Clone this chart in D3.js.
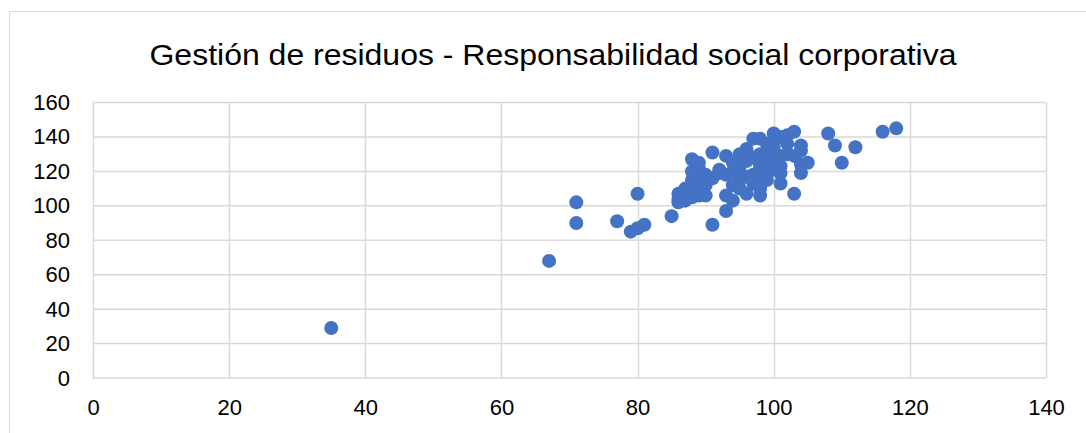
<!DOCTYPE html>
<html>
<head>
<meta charset="utf-8">
<script src="https://cdn.jsdelivr.net/npm/d3@7"></script>
<style>
  body { margin: 0; background: #fff; }
  text { font-family: "Liberation Sans", Arial, sans-serif; fill: #000; }
</style>
</head>
<body>
<div id="chart"></div>
<script>
// values (x = gestión de residuos, y = RSC)
let xValues = [35, 67, 71, 71, 77, 79, 80, 81, 80, 85, 91, 93,
    86, 86, 87, 87, 88, 88, 88, 89, 89, 90, 88, 87, 89, 90, 86,
    88, 91, 93, 89, 88, 90, 91, 92, 92, 93, 89,
    93, 94, 96, 98, 94, 95, 94, 95, 96, 96, 95, 97, 98, 97, 98, 99, 97, 96, 95, 97, 98, 99, 99, 98, 99, 99,
    100, 100, 101, 100, 101, 100, 101, 101, 101, 102, 102, 102, 103, 103, 103, 104, 104, 104, 105, 104, 100, 100, 98, 95, 94,
    108, 109, 112, 110, 116, 118];
let yValues = [29, 68, 102, 90, 91, 85, 87, 89, 107, 94, 89, 97,
    107, 102, 103, 110, 105, 108, 112, 106, 110, 106, 115, 107, 114, 112, 104,
    127, 131, 129, 122, 120, 118, 116, 119, 121, 118, 125,
    106, 103, 107, 106, 112, 115, 120, 123, 126, 133, 130, 139, 139, 128, 130, 127, 118, 117, 110, 113, 116, 115, 120, 123, 132, 136,
    142, 138, 140, 134, 129, 125, 123, 113, 119, 136, 130, 141, 143, 129, 107, 119, 132, 135, 125, 124, 131, 121, 110, 118, 125,
    142, 135, 134, 125, 143, 145];
let xTicks = [0, 20, 40, 60, 80, 100, 120, 140];
let yTicks = [0, 20, 40, 60, 80, 100, 120, 140, 160];
let title = "Gestión de residuos - Responsabilidad social corporativa";

let width = 1086, height = 433;
let margin = {top: 102.5, right: 40, bottom: 55, left: 93};
let plotW = width - margin.left - margin.right;   // 953
let plotH = height - margin.top - margin.bottom;  // ~276

let svg = d3.select("#chart")
    .append("svg")
    .attr("width", width)
    .attr("height", height);

// chart border
svg.append("rect")
    .attr("x", 9.5)
    .attr("y", 11.5)
    .attr("width", width + 10)
    .attr("height", height + 10)
    .attr("fill", "none")
    .attr("stroke", "#d9d9d9");

// title is drawn narrower than normal in the picture
svg.append("text")
    .attr("x", 553)
    .attr("y", 65)
    .style("text-anchor", "middle")
    .style("font-size", "29px")
    .attr("textLength", 807)
    .attr("lengthAdjust", "spacingAndGlyphs")
    .text(title);

let g = svg.append("g")
    .attr("transform", `translate(${margin.left},${margin.top})`);

let x = d3.scaleLinear().domain([0, 140]).range([0, plotW]);
let y = d3.scaleLinear().domain([0, 160]).range([plotH, 0]);

// gridlines
g.append("g")
    .selectAll("line")
    .data(xTicks)
    .enter()
    .append("line")
    .attr("x1", d => Math.round(x(d)) + 0.5)
    .attr("x2", d => Math.round(x(d)) + 0.5)
    .attr("y1", 0)
    .attr("y2", plotH)
    .attr("stroke", "#d9d9d9")
    .attr("stroke-width", 1.5);

g.append("g")
    .selectAll("line")
    .data(yTicks)
    .enter()
    .append("line")
    .attr("x1", 0)
    .attr("x2", plotW)
    .attr("y1", d => y(d))
    .attr("y2", d => y(d))
    .attr("stroke", "#d9d9d9")
    .attr("stroke-width", 1.5);

// axes (labels only)
let xAxis = g.append("g")
    .attr("transform", `translate(0,${plotH})`)
    .call(d3.axisBottom(x).tickValues(xTicks).tickSize(0).tickPadding(21));
let yAxis = g.append("g")
    .call(d3.axisLeft(y).tickValues(yTicks).tickSize(0).tickPadding(23));

[xAxis, yAxis].forEach(function (a) {
    a.select(".domain").remove();
    a.selectAll("text")
        .style("font-family", "'Liberation Sans', Arial, sans-serif")
        .style("font-size", "22px")
        .attr("fill", "#000");
});

let pts = xValues.map(function (d, i) { return {x: d, y: yValues[i]}; });

g.selectAll("circle")
    .data(pts)
    .enter()
    .append("circle")
    .attr("cx", d => x(d.x))
    .attr("cy", d => y(d.y))
    .attr("r", 7)
    .attr("fill", "#4472c4");
</script>
</body>
</html>
